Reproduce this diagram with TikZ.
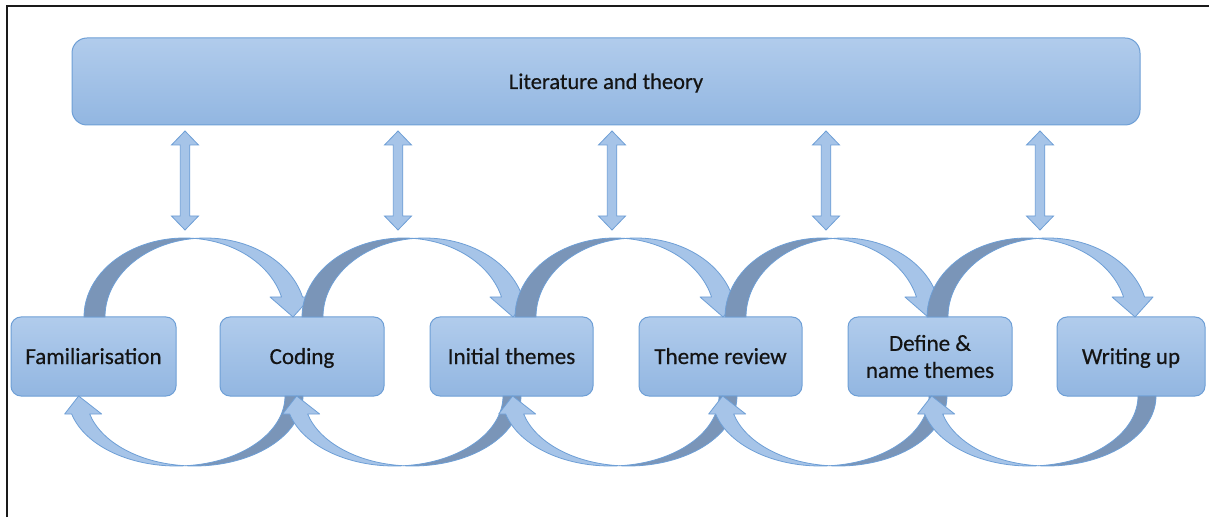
\documentclass[tikz,border=0pt]{standalone}
\usepackage{fontspec}
\setmainfont{Carlito}[RawFeature={embolden=0.5}]

\definecolor{boxtop}{HTML}{B1CCEC}
\definecolor{boxbot}{HTML}{92B6E1}
\definecolor{edge}{HTML}{6E9FD6}
\definecolor{ribbon}{HTML}{A6C4E8}
\definecolor{ribbondark}{HTML}{7A95B8}
\definecolor{framecol}{HTML}{1A1A1A}
\definecolor{ink}{HTML}{141414}

% Upper curved arrow: #1 = outer x of the tail, #2 = horizontal radius
\newcommand\uparc[2]{%
  \pgfmathsetmacro\uth{acos(21/(2*#2))}%
  \pgfmathsetmacro\uthc{180-\uth}%
  \pgfmathsetmacro\uph{asin(20/79)}%
  \pgfmathsetmacro\umid{#1+#2+10.5+#2*cos(\uph)}%
  \pgfmathsetmacro\uix{#1+#2+10.5}%
  \pgfmathsetmacro\uiy{200+79*sin(\uth)}%
  \pgfmathsetmacro\uin{#1+#2+#2*cos(\uph)}%
  \filldraw[legdark] (#1,200)
     arc[start angle=180, end angle=\uth, x radius=#2, y radius=79]
     arc[start angle=\uthc, end angle=180, x radius=#2, y radius=79] -- cycle;
  \filldraw[leglight] (\uix,\uiy)
     arc[start angle=\uthc, end angle=\uph, x radius=#2, y radius=79]
     -- (\umid+19,220) -- (\umid+1,200) -- (\umid-22,220) -- (\uin,220)
     arc[start angle=\uph, end angle=\uth, x radius=#2, y radius=79] -- cycle;
}

% Lower curved arrow: #1 = outer x of the tail, #2 = horizontal radius
\newcommand\lowarc[2]{%
  \pgfmathsetmacro\lwth{acos(18/(2*#2))}%
  \pgfmathsetmacro\lwph{asin(18/70)}%
  \pgfmathsetmacro\lwmid{#1-#2-9-#2*cos(\lwph)}%
  \pgfmathsetmacro\lwix{#1-#2-9}%
  \pgfmathsetmacro\lwiy{121-70*sin(\lwth)}%
  \pgfmathsetmacro\lwA{\lwth-180}%
  \pgfmathsetmacro\lwB{-\lwth}%
  \pgfmathsetmacro\lwC{\lwph-180}%
  \filldraw[legdark] (#1,121)
     arc[start angle=0, end angle=\lwA, x radius=#2, y radius=70]
     arc[start angle=\lwB, end angle=0, x radius=#2, y radius=70] -- cycle;
  \filldraw[leglight] (\lwix,\lwiy)
     arc[start angle=\lwB, end angle=\lwC, x radius=#2, y radius=70]
     -- (\lwmid-16,103) -- (\lwmid-2,121) -- (\lwmid+21,103) -- (\lwmid+9,103)
     arc[start angle=\lwC, end angle=\lwA, x radius=#2, y radius=70] -- cycle;
}

\begin{document}
\begin{tikzpicture}[x=1pt,y=1pt,
  stage/.style={draw=edge, line width=1pt, rounded corners=10pt,
    top color=boxtop, bottom color=boxbot, minimum height=79pt,
    inner sep=0pt, align=center, text=ink, font=\fontsize{23}{27}\selectfont},
  oneline/.style={text height=20pt, text depth=5pt},
  topbox/.style={stage, rounded corners=15pt, minimum height=87pt,
    font=\fontsize{22.5}{27}\selectfont},
  legdark/.style={fill=ribbondark, draw=edge, line width=0.8pt, line join=round},
  leglight/.style={fill=ribbon, draw=edge, line width=0.8pt, line join=round},
  dblarrow/.style={fill=ribbon, draw=edge, line width=0.8pt, line join=miter}]

\useasboundingbox (0,0) rectangle (1209,517);
\fill[white] (0,0) rectangle (1209,517);

% frame
\draw[framecol, line width=2pt] (7,0) -- (7,511) -- (1209,511);

% literature box
\node[topbox, oneline, minimum width=1068pt] (lit) at (606,435.5) {Literature and theory};

% two-way arrows between literature and the analysis cycle
\foreach \ax in {185,398,612,826,1040}{
  \filldraw[dblarrow] (\ax,386) -- (\ax+13.5,372) -- (\ax+4.75,372) -- (\ax+4.75,301)
    -- (\ax+13.5,301) -- (\ax,287) -- (\ax-13.5,301) -- (\ax-4.75,301)
    -- (\ax-4.75,372) -- (\ax-13.5,372) -- cycle;
}

% phases
\node[stage, oneline, minimum width=165pt] (fam) at (93.5,160.5) {Familiarisation};
\node[stage, oneline, minimum width=164pt] (cod) at (302,160.5) {Coding};
\node[stage, oneline, minimum width=163pt] (ini) at (511.5,160.5) {Initial themes};
\node[stage, oneline, minimum width=163pt] (rev) at (720.5,160.5) {Theme review};
\node[stage, minimum width=164pt] (def) at (930,160.5) {Define \&\\name themes};
\node[stage, oneline, minimum width=148pt] (wri) at (1131,160.5) {Writing up};

% forward arrows over the top
\uparc{84}{100.4}
\uparc{302}{101.4}
\uparc{515}{99.9}
\uparc{725}{97.3}
\uparc{927}{99.9}

% backward arrows underneath
\lowarc{303}{108.5}
\lowarc{521}{108.5}
\lowarc{737}{108.5}
\lowarc{947}{108.5}
\lowarc{1156}{108.5}
\end{tikzpicture}
\end{document}
